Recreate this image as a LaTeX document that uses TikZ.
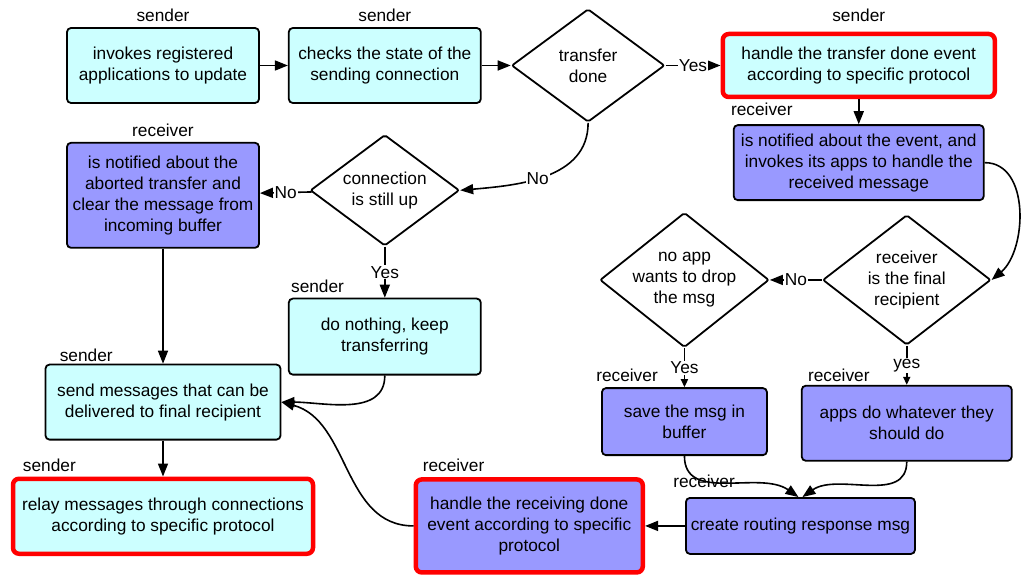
\documentclass[tikz,border=0pt]{standalone}
\usepackage{fontspec}
\setmainfont{Liberation Sans}
\usepackage{tikz}
\usetikzlibrary{positioning,shapes.geometric,arrows.meta}
\definecolor{sendfill}{HTML}{CCFFFF}
\definecolor{recvfill}{HTML}{9999FF}
\tikzset{box/.style={rectangle,draw,line width=1.8pt,rounded corners=4pt,align=center,inner sep=2pt},
	 sbox/.style={box,fill=sendfill},
	 rbox/.style={box,fill=recvfill},
	 proto/.style={draw=red,line width=4.5pt,rounded corners=6pt},
	 cond/.style={diamond,draw,line width=1.8pt,fill=white,align=center,inner sep=-6pt,rounded corners=2pt},
	 who/.style={inner sep=0pt,yshift=5pt},
	 yn/.style={fill=white,inner sep=1pt},
	 arr/.style={line width=1.6pt,-{Triangle[length=13pt,width=10pt]}},
	 sarr/.style={line width=1.6pt,-{Triangle[length=8pt,width=7pt]}},
	 node distance = 30pt
	 }

\begin{document}
\begin{tikzpicture}[every node/.style={font=\fontsize{17.3}{21}\selectfont}] % transfer flow
        \useasboundingbox (0,0) rectangle (1023pt,-577pt);
        \node[sbox,minimum width=192pt,minimum height=75pt] (invokes) at (163pt,-65.5pt) [label={[who]above:sender}] {invokes registered\\applications to update};
        \node[sbox,minimum width=192pt,minimum height=75pt] (checks) [right=28pt of invokes] [label={[who]above:sender}] {checks the state of the\\sending connection};
        \node[cond,minimum width=153pt,minimum height=113pt] (transfer) [right=29pt of checks] {transfer\\done};
        \node[sbox,proto,minimum width=272pt,minimum height=63pt] (htd) [right=55pt of transfer] [label={[who,yshift=5pt]above:sender}] {handle the transfer done event\\according to specific protocol};
        \node[rbox,minimum width=250pt,minimum height=75pt] (notified) [below=25pt of htd] [label={[who,yshift=3pt,anchor=south west,xshift=-2pt]north west:receiver}] {is notified about the event, and\\invokes its apps to handle the\\received message};
        \node[cond,minimum width=168pt,minimum height=130pt] (final) [below=13pt of notified,xshift=48pt] {receiver\\is the final\\recipient};
        \node[cond,minimum width=169pt,minimum height=130pt] (noapp) [left=52pt of final] {no app\\wants to drop\\the msg};
        \node[rbox,minimum width=165pt,minimum height=67pt] (save) [below=39pt of noapp] [label={[who,anchor=south west,xshift=-5pt]north west:receiver}] {save the msg in\\buffer};
        \node[rbox,minimum width=210pt,minimum height=75pt] (apps) [below=39pt of final] [label={[who,yshift=-2pt,anchor=south west,xshift=7pt]north west:receiver}] {apps do whatever they\\should do};
        \node[rbox,minimum width=229pt,minimum height=56pt] (create) [below=41pt of save,xshift=116pt] [label={[who,yshift=4pt,anchor=south west,xshift=-12pt]north west:receiver}] {create routing response msg};
        \node[rbox,proto,minimum width=227pt,minimum height=93pt] (hrd) [left=40pt of create] [label={[who,anchor=south west,xshift=9pt]north west:receiver}] {handle the receiving done\\event according to specific\\protocol};
        \node[rbox,minimum width=192pt,minimum height=105pt] (aborted) [below=38pt of invokes] [label={[who]above:receiver}] {is notified about the\\aborted transfer and\\clear the message from\\incoming buffer};
        \node[cond,minimum width=149pt,minimum height=111pt] (conn) [below=30pt of checks] {connection\\is still up};
        \node[sbox,minimum width=192pt,minimum height=76pt] (nothing) [below=51pt of conn] [label={[who,anchor=south west,xshift=3pt]north west:sender}] {do nothing, keep\\transferring};
        \node[sbox,minimum width=235pt,minimum height=75pt] (send) [below=115pt of aborted] [label={[who,yshift=-3pt,anchor=south west,xshift=15pt]north west:sender}] {send messages that can be\\delivered to final recipient};
        \node[sbox,proto,minimum width=300pt,minimum height=75pt] (relay) [below=36pt of send] [label={[who,anchor=south west,xshift=12pt]north west:sender}] {relay messages through connections\\according to specific protocol};
        \draw[arr] (invokes) -- (checks);
        \draw[arr] (checks) -- (transfer);
        \draw[arr] (transfer) -- node[yn] {Yes} (htd);
        \draw[arr] (transfer.south) to[out=-90,in=5] node[yn,pos=0.55] {No} (conn.east);
        \draw[arr] (htd) -- (notified);
        \draw[arr] (notified.east) to[out=0,in=40] (final.east);
        \draw[arr] (final) -- node[yn] {No} (noapp);
        \draw[sarr] (final) -- node[yn] {yes} (apps);
        \draw[sarr] (noapp) -- node[yn] {Yes} (save);
        \draw[arr] (save.south) to[out=-90,in=145] ([xshift=-2pt]create.north);
        \draw[arr] (apps.south) to[out=-90,in=35] ([xshift=2pt]create.north);
        \draw[arr] (create) -- (hrd);
        \draw[arr] (hrd.west) to[out=180,in=-15] (send.east);
        \draw[arr] (nothing.south) to[out=-90,in=0] (send.east);
        \draw[arr] (conn) -- node[yn] {No} (aborted);
        \draw[arr] (conn) -- node[yn] {Yes} (nothing);
        \draw[arr] (aborted) -- (send);
        \draw[arr] (send) -- (relay);
     \end{tikzpicture}
\end{document}
